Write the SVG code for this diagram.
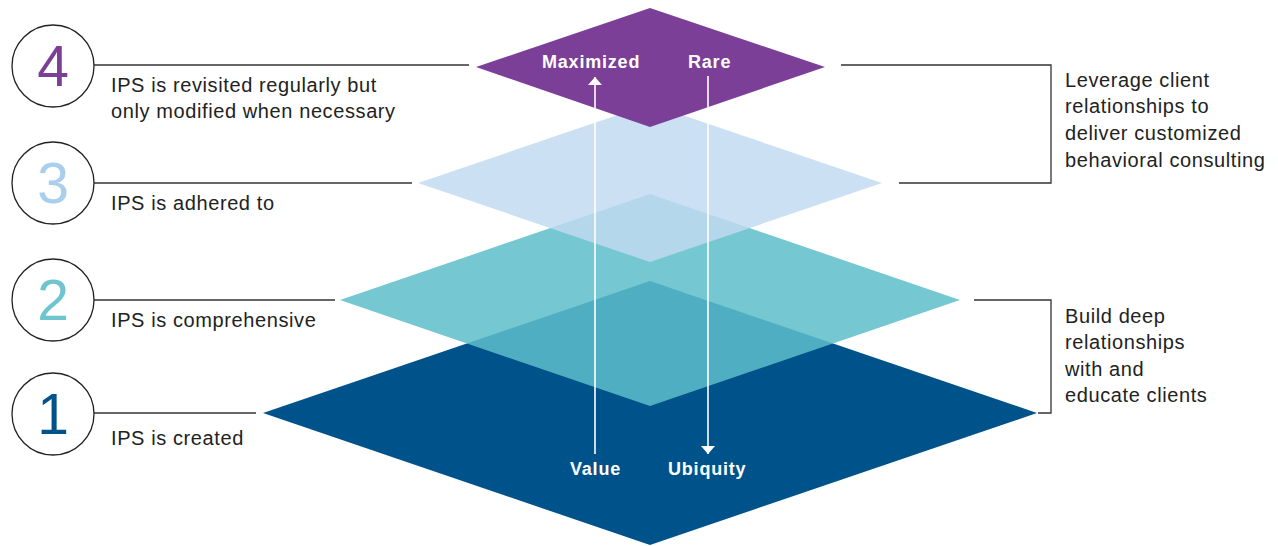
<svg xmlns="http://www.w3.org/2000/svg" width="1278" height="546" viewBox="0 0 1278 546">
<defs>
<style>
.lbl{font-family:"Liberation Sans",Arial,sans-serif;font-size:20px;fill:#222;letter-spacing:0.6px}
.num{font-family:"Liberation Sans",Arial,sans-serif;font-size:57px;text-anchor:middle}
.ring{fill:#fff;stroke:#222;stroke-width:1.3}
.lead{stroke:#333;stroke-width:1.3;fill:none}
.axis{font-family:"Liberation Sans",Arial,sans-serif;font-size:18px;font-weight:bold;fill:#fff;letter-spacing:0.8px}
.arrow{stroke:#fff;stroke-width:1.6;fill:none}
</style>
<marker id="ah" viewBox="0 0 8 14" refX="8" refY="7" markerWidth="8" markerHeight="14" markerUnits="userSpaceOnUse" orient="auto">
<path d="M0,0 L8,7 L0,14 z" fill="#fff"/>
</marker>
</defs>
<rect width="1278" height="546" fill="#fff"/>

<g id="layer-1">
<polygon points="650,281 1037,413 650,545 263,413" fill="#00538A"/>
</g>
<g id="layer-2">
<polygon points="650,194 960,300 650,406 340,300" fill="#5DBECA" fill-opacity="0.85"/>
</g>
<g id="layer-3">
<polygon points="650,104 882,183 650,262 418,183" fill="#C2DAF1" fill-opacity="0.83"/>
</g>
<g id="layer-4">
<polygon points="650,8 825,67 650,127 476,67" fill="#7B3F98"/>
</g>

<g id="connectors">
<line class="lead" x1="94" y1="65" x2="469" y2="65"/>
<line class="lead" x1="94" y1="183" x2="412" y2="183"/>
<line class="lead" x1="94" y1="300" x2="335" y2="300"/>
<line class="lead" x1="94" y1="413" x2="256" y2="413"/>
<polyline class="lead" points="841,65 1051,65 1051,183 899,183"/>
<polyline class="lead" points="974,300 1051,300 1051,413 1038,413"/>
<line class="arrow" x1="595" y1="454" x2="595" y2="77" marker-end="url(#ah)"/>
<line class="arrow" x1="708" y1="76" x2="708" y2="454" marker-end="url(#ah)"/>
</g>

<g id="axis-labels">
<text class="axis" x="542" y="68">Maximized</text>
<text class="axis" x="688" y="68">Rare</text>
<text class="axis" x="570" y="475">Value</text>
<text class="axis" x="668" y="475">Ubiquity</text>
</g>

<g id="step-4">
<circle class="ring" cx="53" cy="66" r="41"/>
<text class="num" x="53" y="86" fill="#7B3F98">4</text>
<text class="lbl" x="111" y="92">IPS is revisited regularly but</text>
<text class="lbl" x="111" y="118">only modified when necessary</text>
</g>
<g id="step-3">
<circle class="ring" cx="53" cy="183" r="41"/>
<text class="num" x="53" y="203" fill="#A9CFEE">3</text>
<text class="lbl" x="111" y="210">IPS is adhered to</text>
</g>
<g id="step-2">
<circle class="ring" cx="53" cy="300" r="41"/>
<text class="num" x="53" y="320" fill="#6FC5CF">2</text>
<text class="lbl" x="111" y="327">IPS is comprehensive</text>
</g>
<g id="step-1">
<circle class="ring" cx="53" cy="414" r="41"/>
<text class="num" x="53" y="434" fill="#00538A">1</text>
<text class="lbl" x="111" y="445">IPS is created</text>
</g>

<g id="note-top">
<text class="lbl" x="1065" y="87">Leverage client</text>
<text class="lbl" x="1065" y="113">relationships to</text>
<text class="lbl" x="1065" y="140">deliver customized</text>
<text class="lbl" x="1065" y="167">behavioral consulting</text>
</g>
<g id="note-bottom">
<text class="lbl" x="1065" y="323">Build deep</text>
<text class="lbl" x="1065" y="349">relationships</text>
<text class="lbl" x="1065" y="376">with and</text>
<text class="lbl" x="1065" y="402">educate clients</text>
</g>
</svg>
